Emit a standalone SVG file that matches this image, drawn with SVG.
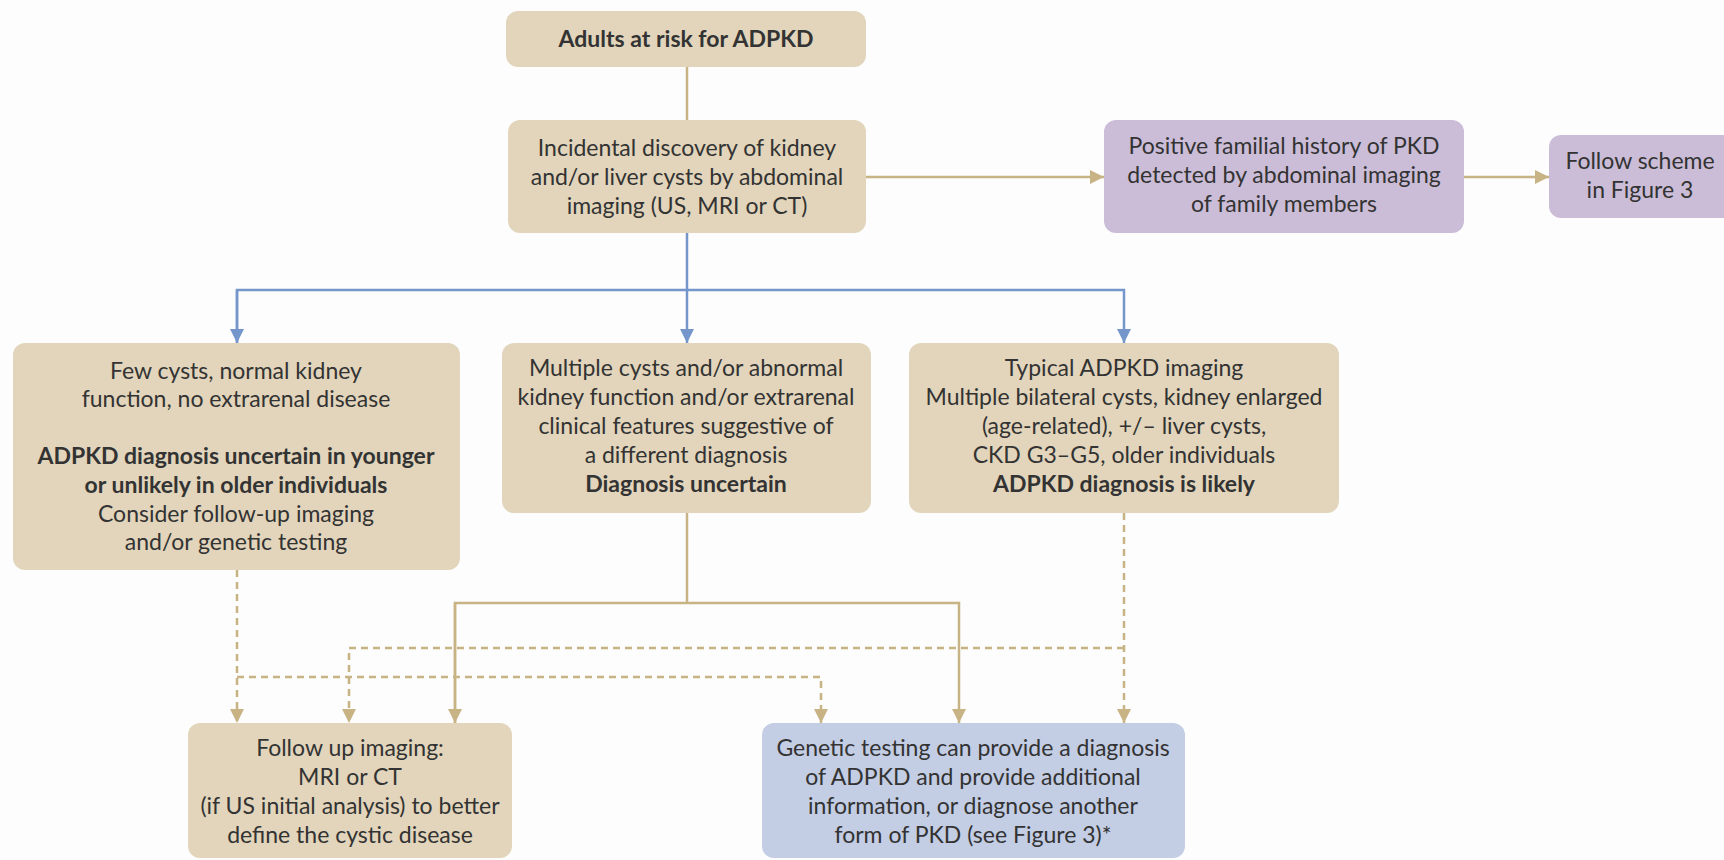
<svg xmlns="http://www.w3.org/2000/svg" width="1724" height="860" viewBox="0 0 1724 860">
<defs>
<style>
.tan{fill:#e2d5bb}
.pur{fill:#cbbdd7}
.blu{fill:#c3cde4}
text{font-family:Lato,"Open Sans","Liberation Sans",sans-serif;font-size:23px;fill:#333;text-anchor:middle}
.b{font-weight:bold}
.lt{stroke:#c8b385;stroke-width:2.5;fill:none}
.ld{stroke:#c8b385;stroke-width:2.5;fill:none;stroke-dasharray:7 5}
.lb{stroke:#7596ca;stroke-width:2.5;fill:none}
</style>
<marker id="at" markerUnits="userSpaceOnUse" markerWidth="16" markerHeight="16" viewBox="0 0 16 16" refX="15" refY="8" orient="auto">
<path d="M1,1 L15,8 L1,15 Z" fill="#c8b385"/>
</marker>
<marker id="ab" markerUnits="userSpaceOnUse" markerWidth="16" markerHeight="16" viewBox="0 0 16 16" refX="15" refY="8" orient="auto">
<path d="M1,1 L15,8 L1,15 Z" fill="#7596ca"/>
</marker>
</defs>
<rect width="1724" height="860" fill="#fdfdfd"/>
<g id="connectors">
<path class="lt" d="M687,67 V120"/>
<path class="lt" d="M866,177 H1104" marker-end="url(#at)"/>
<path class="lt" d="M1464,177 H1549" marker-end="url(#at)"/>
<path class="lb" d="M687,233 V343" marker-end="url(#ab)"/>
<path class="lb" d="M237,343 V290 H1124 V343" marker-end="url(#ab)"/>
<path class="lb" d="M237,290 V343" marker-end="url(#ab)"/>
<path class="lt" d="M687,513 V603"/>
<path class="lt" d="M455,723 V603 H959 V723" marker-end="url(#at)"/>
<path class="lt" d="M455,603 V723" marker-end="url(#at)"/>
<path class="ld" d="M237,570 V723" marker-end="url(#at)"/>
<path class="ld" d="M237,677 H821 V723" marker-end="url(#at)"/>
<path class="ld" d="M1124,513 V723" marker-end="url(#at)"/>
<path class="ld" d="M1124,648 H349 V723" marker-end="url(#at)"/>
</g>
<g id="n1">
<rect class="tan" x="506" y="11" width="360" height="56" rx="12"/>
<text class="b" x="686" y="47">Adults at risk for ADPKD</text>
</g>
<g id="n2">
<rect class="tan" x="508" y="120" width="358" height="113" rx="12"/>
<text x="687" y="156">Incidental discovery of kidney</text>
<text x="687" y="185">and/or liver cysts by abdominal</text>
<text x="687" y="214">imaging (US, MRI or CT)</text>
</g>
<g id="n3">
<rect class="pur" x="1104" y="120" width="360" height="113" rx="12"/>
<text x="1284" y="154">Positive familial history of PKD</text>
<text x="1284" y="183">detected by abdominal imaging</text>
<text x="1284" y="212">of family members</text>
</g>
<g id="n4">
<rect class="pur" x="1549" y="135" width="190" height="83" rx="12"/>
<text x="1640" y="169">Follow scheme</text>
<text x="1640" y="198">in Figure 3</text>
</g>
<g id="n5">
<rect class="tan" x="13" y="343" width="447" height="227" rx="12"/>
<text x="236" y="379">Few cysts, normal kidney</text>
<text x="236" y="407">function, no extrarenal disease</text>
<text class="b" x="236" y="464">ADPKD diagnosis uncertain in younger</text>
<text class="b" x="236" y="493">or unlikely in older individuals</text>
<text x="236" y="522">Consider follow-up imaging</text>
<text x="236" y="550">and/or genetic testing</text>
</g>
<g id="n6">
<rect class="tan" x="502" y="343" width="369" height="170" rx="12"/>
<text x="686" y="376">Multiple cysts and/or abnormal</text>
<text x="686" y="405">kidney function and/or extrarenal</text>
<text x="686" y="434">clinical features suggestive of</text>
<text x="686" y="463">a different diagnosis</text>
<text class="b" x="686" y="492">Diagnosis uncertain</text>
</g>
<g id="n7">
<rect class="tan" x="909" y="343" width="430" height="170" rx="12"/>
<text x="1124" y="376">Typical ADPKD imaging</text>
<text x="1124" y="405">Multiple bilateral cysts, kidney enlarged</text>
<text x="1124" y="434">(age-related), +/– liver cysts,</text>
<text x="1124" y="463">CKD G3–G5, older individuals</text>
<text class="b" x="1124" y="492">ADPKD diagnosis is likely</text>
</g>
<g id="n8">
<rect class="tan" x="188" y="723" width="324" height="135" rx="12"/>
<text x="350" y="756">Follow up imaging:</text>
<text x="350" y="785">MRI or CT</text>
<text x="350" y="814">(if US initial analysis) to better</text>
<text x="350" y="843">define the cystic disease</text>
</g>
<g id="n9">
<rect class="blu" x="762" y="723" width="423" height="135" rx="12"/>
<text x="973" y="756">Genetic testing can provide a diagnosis</text>
<text x="973" y="785">of ADPKD and provide additional</text>
<text x="973" y="814">information, or diagnose another</text>
<text x="973" y="843">form of PKD (see Figure 3)*</text>
</g>
</svg>
